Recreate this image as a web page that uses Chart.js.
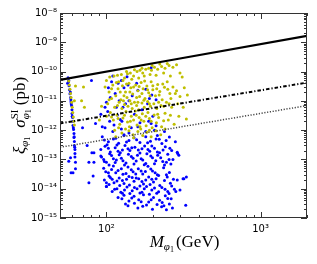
<!DOCTYPE html>
<html>
<head>
<meta charset="utf-8">
<script src="https://cdn.jsdelivr.net/npm/chart.js@4.4.1/dist/chart.umd.min.js"></script>
<style>
  html, body { margin: 0; padding: 0; background: #fff; }
</style>
</head>
<body>
<canvas id="chart" width="317" height="264"></canvas>
<script>
// axis ranges and ticks
const xMin = 50, xMax = 2000;
const yMin = 1e-15, yMax = 1e-8;
const xMajorTicks = [100, 1000];
const xMinorTicks = [50, 60, 70, 80, 90, 200, 300, 400, 500, 600, 700, 800, 900, 2000];
const xTickLabels = { 100: '10²', 1000: '10³' };
const yMajorTicks = [1e-15, 1e-14, 1e-13, 1e-12, 1e-11, 1e-10, 1e-9, 1e-8];
const yTickLabels = ['10⁻¹⁵', '10⁻¹⁴', '10⁻¹³', '10⁻¹²', '10⁻¹¹', '10⁻¹⁰', '10⁻⁹', '10⁻⁸'];
const yMinorSteps = [2, 3, 4, 5, 6, 7, 8, 9];

// limit curves [M (GeV), sigma (pb)]
const solidLine = [[50, 5.2e-11], [300, 2.8e-10], [2000, 1.65e-9]];
const dashDotLine = [[50, 1.7e-12], [2000, 4.2e-11]];
const dottedLine = [[50, 2.6e-13], [2000, 6.9e-12]];

// scan points [M (GeV), sigma (pb)]
const bluePts = [
  // upper region, mixed with the olive points
  [80,5e-11],[103,2.8e-11],[106,1.3e-11],[102,4.3e-12],[119,4e-11],[136,6.6e-11],[147,1.5e-11],[160,2.3e-11],
  [130,2.8e-11],[185,8e-12],[152,3.5e-12],[123,2.3e-12],[92,3.5e-12],[85,1.7e-12],[110,7e-11],[125,5e-11],
  [140,1e-11],[114,1.8e-11],[170,5e-12],[195,1.7e-12],[210,1.4e-12],[100,9e-12],[128,6e-12],[165,1.8e-12],
  [112,1.5e-12],[145,1.2e-12],[180,2.5e-11],[200,3e-12],[118,3.3e-12],[94,1.3e-12],[108,4.5e-11],[133,8e-12],
  [157,4e-11],[190,1.2e-11],[195,1.35e-10],[197,1.6e-11],[210,1.1e-11],[188,2e-12],[238,9e-13],[214,6.5e-13],
  [105,2e-12],[116,6e-12],[121,1e-11],[138,3.5e-11],[126,2e-12],[98,6e-12],
  // resonance strip
  [56.4,6.1e-11],[56.8,4.5e-11],[57.2,3.3e-11],[57.6,2.4e-11],[58,1.75e-11],[58.5,1.3e-11],[58.9,9.4e-12],
  [59.4,6.9e-12],[59.8,5e-12],[59.8,3.7e-12],[60.3,2.7e-12],[60.7,2e-12],[60.7,1.45e-12],[61.2,1.05e-12],
  [61.6,7.7e-13],[61.6,5.6e-13],[62,4.1e-13],[62,3e-13],[62.5,2.2e-13],[62.5,1.6e-13],[62.5,1.2e-13],
  [57,5e-11],[58.3,2e-11],[59.1,8e-12],[60,3e-12],[61,1.2e-12],[61.8,6e-13],[62.3,2.6e-13],[56,4e-11],[58.8,1.1e-11],
  // scattered low-mass points
  [58.5,1.15e-13],[63,8e-14],[60.7,3.5e-14],[63,4.8e-14],[80.5,1.7e-13],[83,1.7e-13],[77,8e-14],[83,8e-14],
  [82,2.7e-14],[77,1.6e-14],[92,1.3e-13],[97,8.5e-14],[100,1.6e-14],[100,1.2e-14],[57,8.6e-14],[59,3.5e-14],
  [70,1.2e-12],[75,3e-13],
  // main lower cloud
  [98,1.2e-12],[110,9e-13],[125,1.1e-12],[140,8e-13],[160,1.3e-12],[180,9e-13],[205,1e-12],[130,7e-13],
  [94,6e-13],[103,4e-13],[111,5e-13],[120,3.6e-13],[130,6.5e-13],[140,4.4e-13],[151,5.5e-13],[165,3.8e-13],
  [180,6e-13],[193,4.2e-13],[210,5e-13],[229,3.5e-13],[256,5.8e-13],[280,4e-13],
  [92,2.2e-13],[98,2.8e-13],[106,1.8e-13],[114,2.5e-13],[123,1.7e-13],[132,3e-13],[142,2e-13],[153,2.6e-13],
  [165,1.65e-13],[177,2.9e-13],[191,1.9e-13],[205,2.4e-13],[221,1.7e-13],[241,2.7e-13],[265,2e-13],[288,1.75e-13],
  [103,2.4e-13],[119,1.9e-13],[138,2.3e-13],[161,2.1e-13],[186,2.2e-13],[214,1.8e-13],
  [93,1.2e-13],[100,8e-14],[108,1.35e-13],[116,9.5e-14],[125,1.1e-13],[134,7.5e-14],[145,1.25e-13],[156,8.8e-14],
  [168,1.05e-13],[180,7.2e-14],[194,1.3e-13],[209,9e-14],[225,1.15e-13],[245,8e-14],[270,1e-13],
  [96,1e-13],[111,1.05e-13],[128,9e-14],[149,1.1e-13],[172,9.5e-14],[199,1.15e-13],[232,8.5e-14],
  [96,5e-14],[103,3.5e-14],[111,6e-14],[119,4.2e-14],[128,3.1e-14],[138,5.5e-14],[149,3.8e-14],[161,4.8e-14],
  [172,3.2e-14],[186,5.8e-14],[199,4e-14],[214,3e-14],[235,5.2e-14],[256,3.6e-14],
  [108,4.5e-14],[125,4.8e-14],[145,4.4e-14],[168,4e-14],[194,4.7e-14],
  [97,2e-14],[104,2.7e-14],[112,1.6e-14],[121,2.3e-14],[130,1.5e-14],[140,2.6e-14],[151,1.8e-14],[162,2.2e-14],
  [174,1.45e-14],[188,2.5e-14],[202,1.7e-14],[218,2.8e-14],[238,1.9e-14],[260,1.55e-14],[288,2e-14],[314,2.2e-14],
  [109,2.1e-14],[127,1.9e-14],[147,2.4e-14],[170,1.75e-14],[197,2.1e-14],
  [100,1.2e-14],[109,8e-15],[117,1e-14],[127,7e-15],[136,1.15e-14],[147,8.5e-15],[158,1e-14],[170,7.5e-15],
  [182,1.2e-14],[197,9e-15],[212,7e-15],[229,1.1e-14],[250,8e-15],[276,9.5e-15],
  [119,5e-15],[130,6e-15],[140,3.8e-15],[151,5.5e-15],[162,4.2e-15],[174,6.2e-15],[188,3.5e-15],[202,5e-15],
  [221,4e-15],[241,5.8e-15],[263,4.5e-15],
  [138,2.6e-15],[160,2.2e-15],[182,2.8e-15],[199,2e-15],[228,2.4e-15],[245,1.9e-15],[268,2.2e-15],[327,2.7e-15],
  [290,1.6e-13],[295,1.4e-13],[255,1e-13],[318,2.2e-14],[330,2.5e-14],[300,9e-15],[282,8e-15],
  [97,4.6e-13],[115,5.3e-13],[135,3.9e-13],[157,4.7e-13],[185,3.7e-13],[220,4.9e-13],[244,4.4e-13],
  [101,3.2e-13],[117,3.1e-13],[127,2.1e-13],[146,2.5e-13],[170,2.3e-13],[197,2.9e-13],[233,2.1e-13],[258,2.4e-13],
  [105,1.55e-13],[121,1.45e-13],[139,1.5e-13],[159,1.4e-13],[183,1.55e-13],[215,1.4e-13],[250,1.5e-13],
  [104,6.5e-14],[114,7.8e-14],[131,6.4e-14],[151,7e-14],[176,6.6e-14],[205,7.1e-14],[238,6.5e-14],[262,7e-14],
  [99,3.8e-14],[115,3.5e-14],[134,3.3e-14],[155,3.2e-14],[179,3.9e-14],[207,3.5e-14],[245,3e-14],
  [106,2.4e-14],[117,1.85e-14],[135,2.1e-14],[156,2.3e-14],[180,2e-14],[210,2.2e-14],[248,2.5e-14],[272,2.1e-14],
  [104,1.4e-14],[122,1.3e-14],[141,1.35e-14],[165,1.25e-14],[192,1.4e-14],[222,1.3e-14],[265,1.25e-14],
  [113,9.5e-15],[131,9e-15],[152,1.1e-14],[176,1e-14],[205,1.05e-14],[240,9.5e-15],
  [124,7.5e-15],[142,6.8e-15],[165,7.2e-15],[190,6.5e-15],[218,7.8e-15],[255,6.8e-15],
  [126,4.5e-15],[146,4.8e-15],[168,3.6e-15],[195,4.2e-15],[230,3.4e-15],[250,4.6e-15],
  [133,3e-15],[152,3.2e-15],[172,2.5e-15],[213,2.9e-15],[236,2.6e-15],[256,3e-15]
];

const olivePts = [
  // near the upper limit
  [105,6.5e-11],[112,7e-11],[118,7.5e-11],[125,8e-11],[131,6e-11],[137,8.5e-11],[143,9e-11],[150,7e-11],
  [158,1e-10],[165,1.1e-10],[172,9e-11],[180,1.2e-10],[188,1.3e-10],[196,1.1e-10],[205,1.4e-10],[215,1.2e-10],
  [228,1.5e-10],[240,1.3e-10],[255,1.6e-10],[270,1.4e-10],[300,9e-11],[120,4.5e-11],[128,5e-11],[146,5.5e-11],
  [162,6e-11],[176,7e-11],[192,8e-11],[210,7.5e-11],[235,9e-11],[260,7e-11],[310,6.5e-11],
  [135,1e-10],[152,1.15e-10],[170,1.3e-10],[198,1.6e-10],[222,1.8e-10],[248,1.9e-10],[285,1.7e-10],
  // middle
  [98,3e-11],[104,2e-11],[110,3.5e-11],[115,1.5e-11],[119,2.6e-11],[124,1.1e-11],[127,3.3e-11],[133,2e-11],
  [136,1.3e-11],[140,4e-11],[144,2.8e-11],[148,1.7e-11],[152,9e-12],[155,3.5e-11],[160,2.2e-11],[164,1.4e-11],
  [168,4.2e-11],[173,2.6e-11],[178,1.2e-11],[183,3.2e-11],[188,1.9e-11],[195,4.5e-11],[200,2.4e-11],[208,1.5e-11],
  [215,3.6e-11],[222,2.1e-11],[230,1.1e-11],[238,2.9e-11],[248,4.5e-11],[258,1.8e-11],[270,3e-11],[285,2.2e-11],
  [300,1.4e-11],[320,2.8e-11],[335,1.6e-11],
  [100,5e-11],[108,2.6e-11],[116,4.2e-11],[123,2e-11],[130,1.5e-11],[135,3.8e-11],[142,2e-11],[150,3e-11],
  [157,1.3e-11],[163,3.1e-11],[170,1.8e-11],[177,4.8e-11],[185,2.4e-11],[192,1.5e-11],[200,3.3e-11],[212,2.6e-11],
  [220,1.6e-11],[232,3.8e-11],[250,2.5e-11],[262,1.2e-11],[280,1.8e-11],
  [102,8e-12],[108,1.2e-11],[113,6e-12],[121,9e-12],[126,5.5e-12],[131,7.5e-12],[138,6.5e-12],[142,1e-11],
  [147,5.5e-12],[157,7e-12],[162,5e-12],[170,8.5e-12],[176,6e-12],[185,9.5e-12],[193,6.5e-12],[203,8e-12],
  [212,5.5e-12],[226,7e-12],[245,9e-12],[265,6e-12],[290,8e-12],[315,6e-12],
  [104,1.1e-11],[118,7e-12],[129,1e-11],[145,8e-12],[160,9e-12],[175,1.05e-11],[190,8e-12],[218,9e-12],
  [236,6.5e-12],[255,8e-12],
  // lower edge
  [100,3e-12],[106,4e-12],[111,2.2e-12],[117,3.3e-12],[122,1.6e-12],[128,2.6e-12],[134,4.3e-12],[137,1.9e-12],
  [141,1.3e-12],[145,3e-12],[150,2.2e-12],[154,4.5e-12],[158,1.5e-12],[163,2.7e-12],[167,1.1e-12],[171,3.6e-12],
  [175,2e-12],[181,1.4e-12],[186,4e-12],[190,2.5e-12],[198,1.2e-12],[204,3.3e-12],[211,1.8e-12],[218,2.7e-12],
  [228,1.3e-12],[240,3.8e-12],[252,2.2e-12],[275,1.6e-12],[295,3e-12],[330,2.4e-12],
  [108,2.8e-12],[119,2.5e-12],[131,3.2e-12],[143,2e-12],[156,3.2e-12],[168,2.2e-12],[180,3e-12],[195,2e-12],
  [215,3.5e-12],[235,2.1e-12],[260,3.2e-12],
  [113,1e-12],[126,8e-13],[133,1.1e-12],[149,7e-13],[160,9e-13],[172,6.5e-13],[183,8.5e-13],[195,6e-13],
  [210,9.5e-13],[225,7e-13],[150,5.5e-13],[115,6e-13],
  [120,1.2e-12],[140,9.5e-13],[165,1.3e-12],[190,1e-12],[240,1.1e-12],
  // resonance strip and low masses
  [57,4.8e-11],[57.5,3.5e-11],[58,2.5e-11],[58.5,1.8e-11],[59,1.3e-11],[59.5,9e-12],[60,6e-12],[60.5,4e-12],
  [61,2.8e-12],[61.5,2e-12],[62,1.5e-12],[63,3.2e-11],[71,3e-11],[62,1e-11],[69,1e-11],[72,6e-12],
  [93,6.5e-12],[90,2.2e-12]
];

const toXY = arr => arr.map(p => ({ x: p[0], y: p[1] }));
const serif = "'Liberation Serif', 'DejaVu Serif', serif";

// draws a row of text pieces (base, sub/superscripts) centred on (0,0)
function drawRuns(ctx, runs) {
  let cursor = 0, maxEnd = 0, home = 0;
  const placed = [];
  runs.forEach(r => {
    ctx.font = r.f;
    const w = ctx.measureText(r.t).width;
    let start = cursor + (r.gap || 0);
    if (r.home) start = home;
    if (r.tail) start = maxEnd + (r.gap || 0);
    if (r.mark) home = start;
    placed.push({ r, start });
    cursor = start + w;
    maxEnd = Math.max(maxEnd, cursor);
  });
  const off = -maxEnd / 2;
  placed.forEach(p => {
    ctx.font = p.r.f;
    ctx.fillText(p.r.t, off + p.start, p.r.dy || 0);
  });
}

const framePlugin = {
  id: 'frame',
  afterDraw(chart) {
    const ctx = chart.ctx;
    const a = chart.chartArea;
    const xs = chart.scales.x, ys = chart.scales.y;
    ctx.save();
    ctx.strokeStyle = '#333';
    ctx.lineWidth = 1;
    ctx.beginPath();
    const seg = (x1, y1, x2, y2) => { ctx.moveTo(x1, y1); ctx.lineTo(x2, y2); };
    const tx = (v, len) => {
      const p = Math.round(xs.getPixelForValue(v)) + 0.5;
      seg(p, a.bottom, p, a.bottom - len);
      seg(p, a.top, p, a.top + len);
    };
    const ty = (v, len) => {
      const p = Math.round(ys.getPixelForValue(v)) + 0.5;
      seg(a.left, p, a.left + len, p);
      seg(a.right, p, a.right - len, p);
    };
    xMajorTicks.forEach(v => tx(v, 6));
    xMinorTicks.forEach(v => tx(v, 3));
    yMajorTicks.forEach(v => ty(v, 6));
    yMajorTicks.slice(0, -1).forEach(d => yMinorSteps.forEach(s => ty(d * s, 3)));
    ctx.stroke();
    ctx.strokeRect(a.left + 0.5, a.top + 0.5, a.right - a.left - 1, a.bottom - a.top - 1);

    // axis titles
    ctx.fillStyle = '#000';
    ctx.textBaseline = 'alphabetic';
    ctx.textAlign = 'left';
    ctx.save();
    ctx.translate((a.left + a.right) / 2 + 1, 247);
    drawRuns(ctx, [
      { t: 'M', f: 'italic 17px ' + serif },
      { t: 'φ', f: 'italic 11px ' + serif, dy: 3 },
      { t: '1', f: '8px ' + serif, dy: 5 },
      { t: '(GeV)', f: '17px ' + serif, gap: 2 }
    ]);
    ctx.restore();
    ctx.save();
    ctx.translate(25, (a.top + a.bottom) / 2);
    ctx.rotate(-Math.PI / 2);
    drawRuns(ctx, [
      { t: 'ξ', f: 'italic 17px ' + serif },
      { t: 'φ', f: 'italic 11px ' + serif, dy: 3 },
      { t: '1', f: '8px ' + serif, dy: 5 },
      { t: 'σ', f: 'italic 17px ' + serif, gap: 9 },
      { t: 'SI', f: '11px ' + serif, dy: -7, mark: true },
      { t: 'φ', f: 'italic 11px ' + serif, dy: 4, home: true },
      { t: '1', f: '8px ' + serif, dy: 6 },
      { t: '(pb)', f: '17px ' + serif, gap: 4, tail: true }
    ]);
    ctx.restore();
    ctx.restore();
  }
};

new Chart(document.getElementById('chart'), {
  type: 'scatter',
  data: {
    datasets: [
      { data: toXY(solidLine), showLine: true, borderColor: '#000', borderWidth: 2.2, pointRadius: 0, order: 0 },
      { data: toXY(dashDotLine), showLine: true, borderColor: '#000', borderWidth: 2, borderDash: [3.5, 2, 1.2, 2], pointRadius: 0, order: 0 },
      { data: toXY(dottedLine), showLine: true, borderColor: '#444', borderWidth: 1.5, borderDash: [1.2, 1.6], pointRadius: 0, order: 0 },
      { data: toXY(olivePts), backgroundColor: '#bfbf00', borderWidth: 0, pointRadius: 1.5, order: 1 },
      { data: toXY(bluePts), backgroundColor: '#0000ff', borderWidth: 0, pointRadius: 1.5, order: 2 }
    ]
  },
  options: {
    responsive: false,
    animation: false,
    events: [],
    layout: { padding: { left: 0, top: 13, right: 10, bottom: 0 } },
    plugins: { legend: { display: false }, tooltip: { enabled: false } },
    scales: {
      x: {
        type: 'logarithmic', min: xMin, max: xMax,
        grid: { display: false, drawTicks: false }, border: { display: false },
        afterBuildTicks: s => { s.ticks = xMajorTicks.map(v => ({ value: v })); },
        afterFit: s => { s.height = 46; },
        ticks: {
          autoSkip: false, maxRotation: 0, padding: 5, color: '#000',
          font: { family: 'DejaVu Sans', size: 10 },
          callback: v => xTickLabels[v] || ''
        }
      },
      y: {
        type: 'logarithmic', min: yMin, max: yMax,
        grid: { display: false, drawTicks: false }, border: { display: false },
        afterBuildTicks: s => { s.ticks = yMajorTicks.map(v => ({ value: v })); },
        afterFit: s => { s.width = 60; },
        ticks: {
          autoSkip: false, padding: 3, color: '#000',
          font: { family: 'DejaVu Sans', size: 10 },
          callback: v => {
            const i = yMajorTicks.findIndex(t => Math.abs(Math.log10(t) - Math.log10(v)) < 0.01);
            return i >= 0 ? yTickLabels[i] : '';
          }
        }
      }
    }
  },
  plugins: [framePlugin]
});
</script>
</body>
</html>
